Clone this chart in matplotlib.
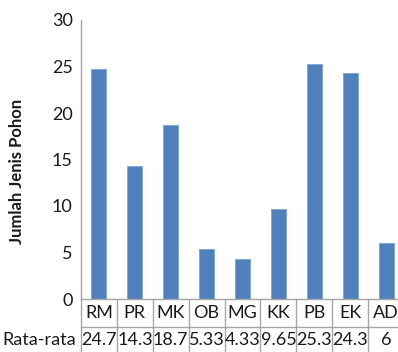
import matplotlib
matplotlib.use("Agg")
import matplotlib.pyplot as plt
import matplotlib.transforms as mtransforms

categories = ["RM", "PR", "MK", "OB", "MG", "KK", "PB", "EK", "AD"]
values = [24.7, 14.3, 18.7, 5.33, 4.33, 9.65, 25.3, 24.3, 6]
value_labels = ["24.7", "14.3", "18.7", "5.33", "4.33", "9.65", "25.3", "24.3", "6"]
row_label = "Rata-rata"
y_ticks = [0, 5, 10, 15, 20, 25, 30]
y_label = "Jumlah Jenis Pohon"

plt.rcParams["font.family"] = ["Lato", "DejaVu Sans"]

W, H = 398, 352
fig = plt.figure(figsize=(W / 100, H / 100), dpi=100)
left, right, top, bottom = 81, 404, 20, 299
ax = fig.add_axes([left / W, 1 - bottom / H, (right - left) / W, (bottom - top) / H])

bar_color = "#4F81BD"
grid_color = "#A6A6A6"
text_color = "#1A1A1A"
fs = 13
x = list(range(len(categories)))
ax.bar(x, values, width=0.42, color=bar_color, edgecolor="#7FA3D3", linewidth=0.6)

ax.set_xlim(-0.5, len(categories) - 0.5)
ax.set_ylim(0, 30)
ax.set_yticks(y_ticks)
ax.set_yticklabels([str(t) for t in y_ticks], fontsize=fs, color=text_color)
ax.tick_params(axis="y", length=0, pad=6)
ax.set_xticks([])
for s in ["top", "right"]:
    ax.spines[s].set_visible(False)
for s in ["left", "bottom"]:
    ax.spines[s].set_color(grid_color)
    ax.spines[s].set_linewidth(1)

fig.text(17 / W, 1 - 171 / H, y_label, rotation=90, ha="center", va="center",
         fontsize=12, fontweight="bold", color=text_color)

# data table below the plot: category row and value row
ph = bottom - top
row1_bottom = -(327 - bottom) / ph
row2_bottom = -(H - bottom) / ph
trans = mtransforms.blended_transform_factory(ax.transData, ax.transAxes)
for i in range(len(categories) + 1):
    ax.plot([i - 0.5, i - 0.5], [0, row2_bottom], transform=trans, color=grid_color,
            lw=1, clip_on=False)
ax.plot([-0.5, len(categories) - 0.5], [row1_bottom, row1_bottom], transform=trans,
        color=grid_color, lw=1, clip_on=False)
ax.plot([0, 1], [1 - 327 / H, 1 - 327 / H], transform=fig.transFigure,
        color=grid_color, lw=1)

y1 = -(313 - bottom) / ph
y2 = -(340 - bottom) / ph
for i, (c, v) in enumerate(zip(categories, value_labels)):
    ax.text(i, y1, c, transform=trans, ha="center", va="center", fontsize=fs,
            color=text_color)
    ax.text(i, y2, v, transform=trans, ha="center", va="center", fontsize=fs,
            color=text_color)
fig.text(2 / W, 1 - 340 / H, row_label, ha="left", va="center", fontsize=fs,
         color=text_color)

fig.savefig("out.png", dpi=100)
